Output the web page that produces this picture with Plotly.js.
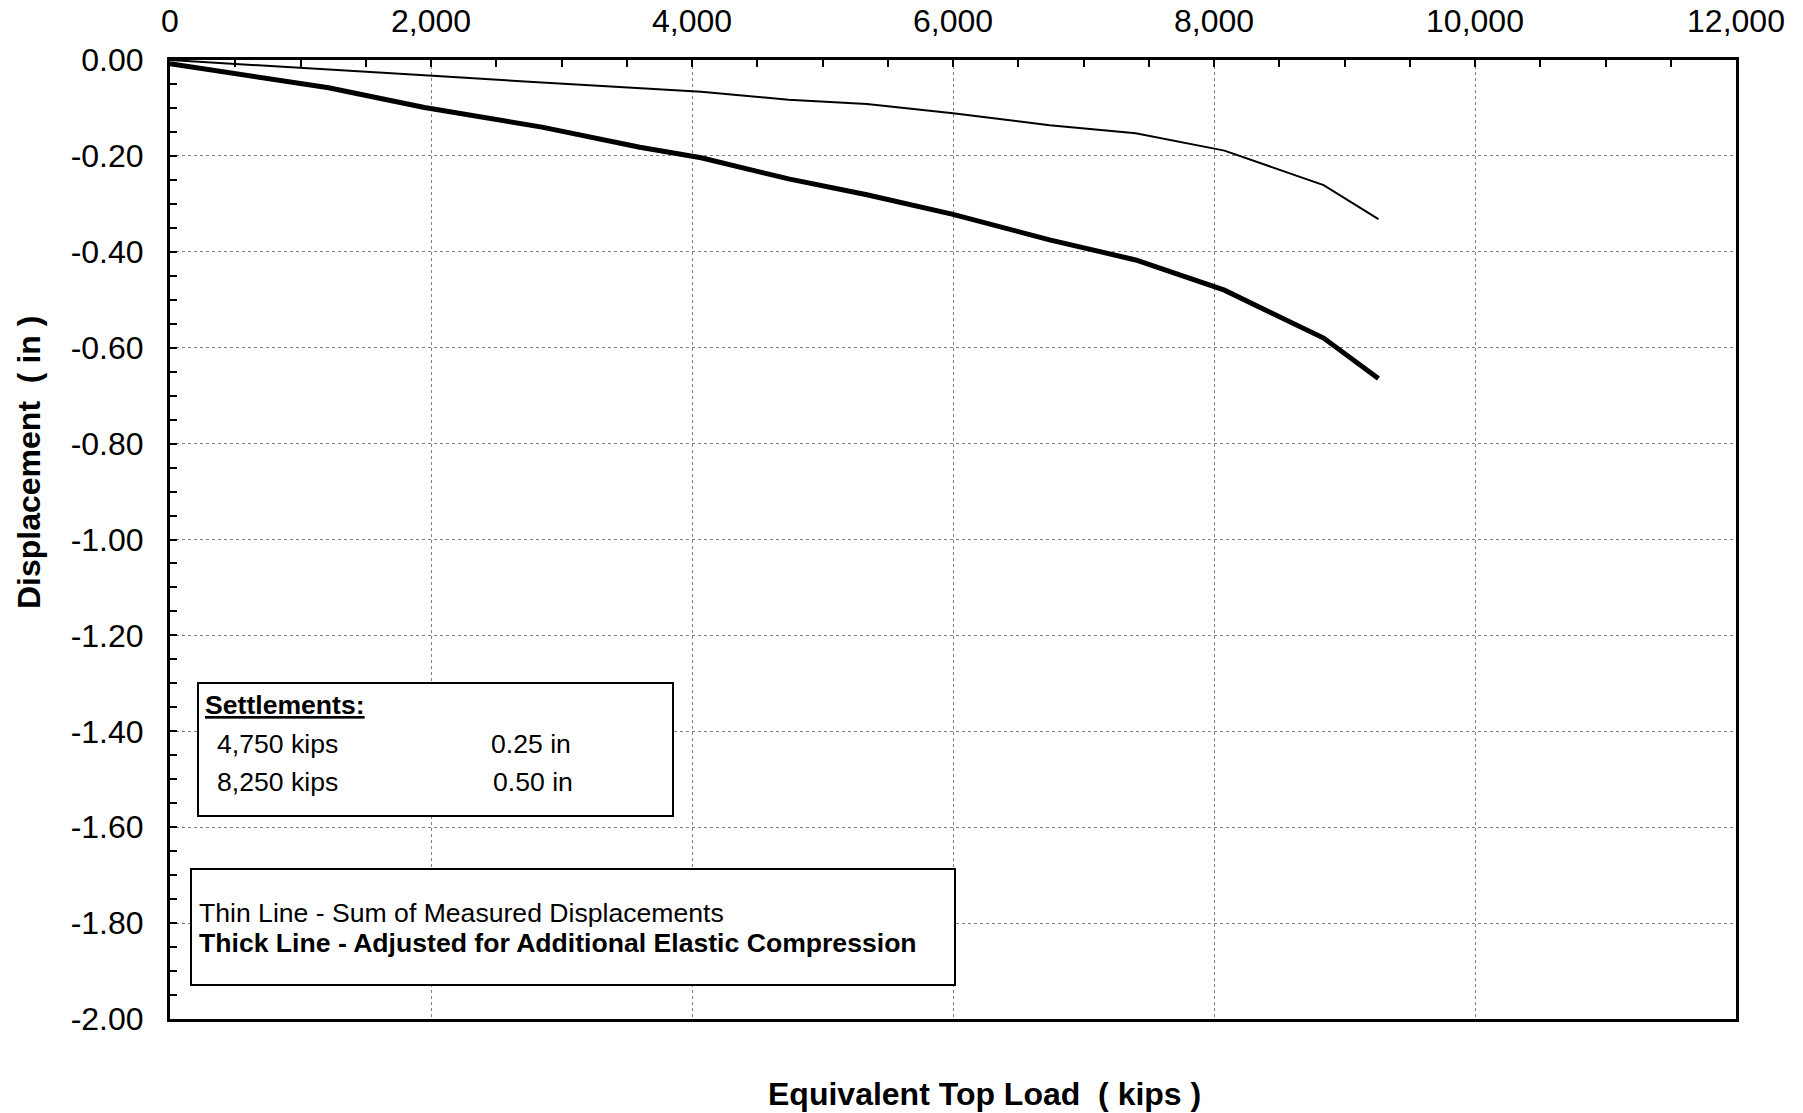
<!DOCTYPE html>
<html>
<head>
<meta charset="utf-8">
<script src="https://cdn.plot.ly/plotly-3.0.1.min.js"></script>
<style>
  html, body { margin: 0; padding: 0; background: #ffffff; }
  #chart { width: 1803px; height: 1113px; }
</style>
</head>
<body>
<div id="chart"></div>
<script>
// ---- Data ----
const loadKips = [0, 1215, 1950, 2850, 3600, 4070, 4740, 5340, 6000, 6740, 7400, 8080, 8840, 9260];
const thinDisp = [0, -0.019, -0.032, -0.047, -0.059, -0.066, -0.083, -0.092, -0.111, -0.136, -0.153, -0.189, -0.261, -0.332];
const thickDisp = [-0.008, -0.058, -0.099, -0.140, -0.182, -0.204, -0.248, -0.281, -0.322, -0.375, -0.417, -0.480, -0.580, -0.664];

const xTickVals = [0, 2000, 4000, 6000, 8000, 10000, 12000];
const xTickText = ['0', '2,000', '4,000', '6,000', '8,000', '10,000', '12,000'];
const yTickVals = [0, -0.2, -0.4, -0.6, -0.8, -1.0, -1.2, -1.4, -1.6, -1.8, -2.0];
const yTickText = ['0.00', '-0.20', '-0.40', '-0.60', '-0.80', '-1.00', '-1.20', '-1.40', '-1.60', '-1.80', '-2.00'];

const xTitle = 'Equivalent Top Load  ( kips )';
const yTitle = 'Displacement  ( in )';
const settleHeader = 'Settlements:';
const settleLoads = ['4,750 kips', '8,250 kips'];
const settleValues = ['0.25 in', '0.50 in'];
const noteThin = 'Thin Line - Sum of Measured Displacements';
const noteThick = 'Thick Line - Adjusted for Additional Elastic Compression';

// ---- Layout geometry (pixels) ----
const W = 1803, H = 1113;
const M = { l: 170, r: 67, t: 60, b: 94 };
const PW = W - M.l - M.r, PH = H - M.t - M.b;
const px = x => (x - M.l) / PW;
const py = y => (H - M.b - y) / PH;

const FONT = '"Liberation Sans", Arial, Helvetica, sans-serif';
const TICK_SIZE = 32;
const TITLE_SIZE = 32;
const NOTE_SIZE = 26.6;

const traces = [
  { x: loadKips, y: thinDisp, type: 'scatter', mode: 'lines',
    line: { color: '#000000', width: 2 }, hoverinfo: 'skip', showlegend: false },
  { x: loadKips, y: thickDisp, type: 'scatter', mode: 'lines',
    line: { color: '#000000', width: 5 }, hoverinfo: 'skip', showlegend: false }
];

function ann(text, x, y, size, opts) {
  return Object.assign({
    text: text, xref: 'paper', yref: 'paper', x: px(x), y: py(y),
    xanchor: 'left', yanchor: 'middle', showarrow: false,
    font: { family: FONT, size: size, color: '#000000' }
  }, opts || {});
}

const annotations = [
  ann('<b>' + xTitle + '</b>', 984, 1094, TITLE_SIZE, { xanchor: 'center' }),
  ann('<b>' + yTitle + '</b>', 29, 463, TITLE_SIZE, { xanchor: 'center', textangle: -90 }),
  ann('<b><u>' + settleHeader + '</u></b>', 203, 705, NOTE_SIZE),
  ann(settleLoads[0], 215, 744, NOTE_SIZE),
  ann(settleValues[0], 489, 744, NOTE_SIZE),
  ann(settleLoads[1], 215, 782, NOTE_SIZE),
  ann(settleValues[1], 491, 782, NOTE_SIZE),
  ann(noteThin, 197, 913, NOTE_SIZE),
  ann('<b>' + noteThick + '</b>', 197, 943, NOTE_SIZE)
];

const shapes = [
  { type: 'rect', xref: 'paper', yref: 'paper', x0: px(198), x1: px(673), y0: py(683), y1: py(816),
    line: { color: '#000000', width: 2 }, fillcolor: '#ffffff', layer: 'above' },
  { type: 'rect', xref: 'paper', yref: 'paper', x0: px(191), x1: px(955), y0: py(869), y1: py(985),
    line: { color: '#000000', width: 2 }, fillcolor: '#ffffff', layer: 'above' }
];

const layout = {
  width: W, height: H,
  margin: M,
  paper_bgcolor: '#ffffff', plot_bgcolor: '#ffffff',
  font: { family: FONT, color: '#000000', size: TICK_SIZE },
  showlegend: false,
  xaxis: {
    range: [0, 12000], side: 'top',
    tickmode: 'array', tickvals: xTickVals, ticktext: xTickText,
    ticks: 'inside', ticklen: 7, tickwidth: 2, tickcolor: '#000000',
    tickfont: { family: FONT, size: TICK_SIZE, color: '#000000' },
    ticklabelstandoff: 12,
    showline: true, linecolor: '#000000', linewidth: 3, mirror: true,
    showgrid: true, gridcolor: '#808080', gridwidth: 1, griddash: 'dot',
    zeroline: false, fixedrange: true,
    minor: { tickmode: 'linear', tick0: 0, dtick: 500, ticks: 'inside', ticklen: 7, tickwidth: 2,
             tickcolor: '#000000', showgrid: false }
  },
  yaxis: {
    range: [-2, 0],
    tickmode: 'array', tickvals: yTickVals, ticktext: yTickText,
    ticks: 'inside', ticklen: 7, tickwidth: 2, tickcolor: '#000000',
    tickfont: { family: FONT, size: TICK_SIZE, color: '#000000' },
    ticklabelstandoff: 17,
    showline: true, linecolor: '#000000', linewidth: 3, mirror: true,
    showgrid: true, gridcolor: '#808080', gridwidth: 1, griddash: 'dot',
    zeroline: false, fixedrange: true,
    minor: { tickmode: 'linear', tick0: 0, dtick: 0.05, ticks: 'inside', ticklen: 7, tickwidth: 2,
             tickcolor: '#000000', showgrid: false }
  },
  annotations: annotations,
  shapes: shapes
};

Plotly.newPlot('chart', traces, layout, { staticPlot: true, displayModeBar: false });
</script>
</body>
</html>
